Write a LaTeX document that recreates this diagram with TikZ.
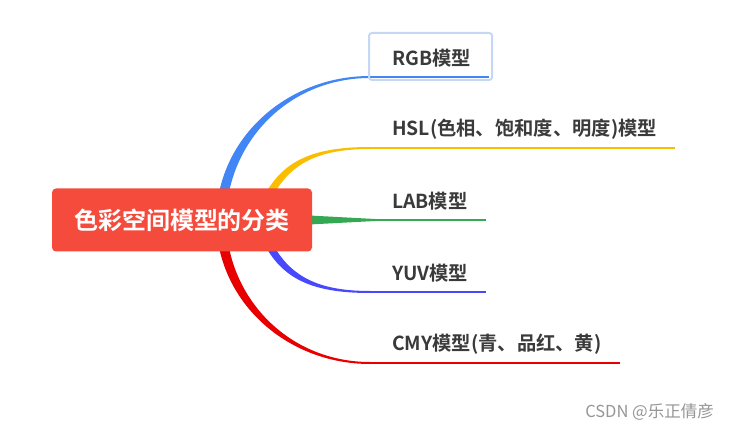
\documentclass[tikz,border=0pt]{standalone}
\usepackage{fontspec}
\setmainfont{Noto Sans CJK SC}[BoldFont={Noto Sans CJK SC Bold}]
\definecolor{rootred}{RGB}{245,75,60}
\definecolor{leafgray}{RGB}{58,58,58}
\definecolor{selblue}{RGB}{196,216,245}
\definecolor{bblue}{RGB}{66,133,244}
\definecolor{byellow}{RGB}{250,190,0}
\definecolor{bgreen}{RGB}{52,168,83}
\definecolor{bpurple}{RGB}{72,72,255}
\definecolor{bred}{RGB}{232,0,0}
\definecolor{markgray}{RGB}{150,150,150}
\begin{document}
\begin{tikzpicture}[x=1pt, y=-1pt,
    root/.style={fill=rootred, rounded corners=4pt, minimum width=260pt, minimum height=63pt,
      inner sep=0pt, text=white, font=\bfseries\fontsize{24}{28}\selectfont},
    leaf/.style={anchor=west, inner sep=0pt, text=leafgray, font=\bfseries\fontsize{19.3}{22}\selectfont},
    twig/.style={line width=2pt}
  ]
  \useasboundingbox (0,0) rectangle (731,430);

  % ends of the curved branches
  \coordinate (k1) at (370,77);
  \coordinate (k2) at (370,148);
  \coordinate (k3) at (375,220);
  \coordinate (k4) at (370,292);
  \coordinate (k5) at (370,363);

  % tapered branches
  \fill[bblue] (216,222) .. controls (216,139) and (286,76) .. ([shift={(0,-1)}]k1)
    -- ([shift={(0,1)}]k1) .. controls (288,78) and (226,143) .. (226,222) -- cycle;
  \fill[byellow] (258,210) .. controls (276,163) and (308,147) .. ([shift={(0,-1)}]k2)
    -- ([shift={(0,1)}]k2) .. controls (312,149) and (284,167) .. (266,210) -- cycle;
  \fill[bgreen] (300,215) -- ([shift={(0,-1)}]k3) -- ([shift={(0,1)}]k3) -- (300,225) -- cycle;
  \fill[bpurple] (258,230) .. controls (276,277) and (308,293) .. ([shift={(0,1)}]k4)
    -- ([shift={(0,-1)}]k4) .. controls (312,291) and (284,273) .. (266,230) -- cycle;
  \fill[bred] (216,218) .. controls (216,301) and (286,364) .. ([shift={(0,1)}]k5)
    -- ([shift={(0,-1)}]k5) .. controls (288,362) and (226,297) .. (226,218) -- cycle;

  \node[root] (root) at (182,220) {色彩空间模型的分类};

  \node[leaf] (rgb) at (392,58) {RGB模型};
  \node[leaf] (hsl) at (392,129) {HSL(色相、饱和度、明度)模型};
  \node[leaf] (lab) at (392,201) {LAB模型};
  \node[leaf] (yuv) at (392,273) {YUV模型};
  \node[leaf] (cmy) at (392,344) {CMY模型(青、品红、黄)};

  \draw[twig, bblue] (k1) -- ([xshift=18pt]k1 -| rgb.east);
  \draw[twig, byellow] (k2) -- ([xshift=18pt]k2 -| hsl.east);
  \draw[twig, bgreen] (k3) -- ([xshift=18pt]k3 -| lab.east);
  \draw[twig, bpurple] (k4) -- ([xshift=18pt]k4 -| yuv.east);
  \draw[twig, bred] (k5) -- ([xshift=18pt]k5 -| cmy.east);

  % selected topic
  \draw[selblue, line width=2pt, rounded corners=3pt] (369,33) rectangle ([xshift=21pt,yshift=-3pt]k1 -| rgb.east);

  \node[anchor=east, inner sep=0pt, text=markgray, font=\fontsize{16.5}{18}\selectfont] (mark) at (714,412) {CSDN @乐正倩彦};
\end{tikzpicture}
\end{document}
